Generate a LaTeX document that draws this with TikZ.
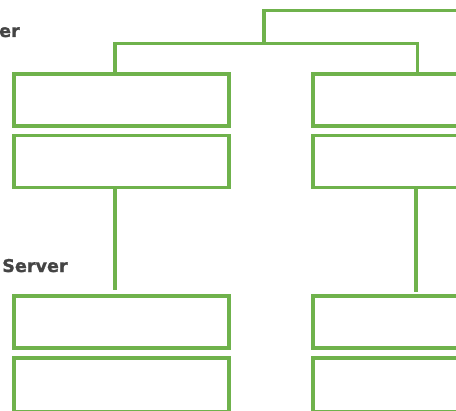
\documentclass[tikz,border=0pt]{standalone}
\usepackage{fontspec}
\setmainfont{DejaVu Sans}
\newfontfamily\heavylabel[FakeBold=1.2]{DejaVu Sans Bold}
\definecolor{linkgreen}{RGB}{111,178,76}
\definecolor{labelgray}{RGB}{68,68,68}
\begin{document}
\begin{tikzpicture}[x=0.75pt,y=-0.75pt,
  unitbox/.style={draw=linkgreen,line width=2.3pt,rectangle,inner sep=0pt,
    minimum width=161.25pt,minimum height=39pt},
  link/.style={draw=linkgreen,line width=2.3pt},
  tierlabel/.style={text=labelgray,font=\fontsize{13.2pt}{16pt}\selectfont\heavylabel,inner sep=0pt}]
\useasboundingbox (0,0) rectangle (456,410);
\clip (0,0) rectangle (456,410);

% upper pair of boxes on each side
\node[unitbox] (L1) at (121.5,100) {};
\node[unitbox] (L2) at (121.5,161.5) {};
\node[unitbox] (R1) at (420.5,100) {};
\node[unitbox] (R2) at (420.5,161.5) {};

% lower pair of boxes on each side
\node[unitbox] (L3) at (121.5,322) {};
\node[unitbox,minimum height=40.5pt] (L4) at (121.5,385) {};
\node[unitbox] (R3) at (420.5,322) {};
\node[unitbox,minimum height=40.5pt] (R4) at (420.5,385) {};

% labels
\node[tierlabel,anchor=base east] (tierA) at (20,37) {er};
\node[tierlabel,anchor=base west] (tierB) at (2,272) {Server};

% bus joining the two upper stacks
\coordinate (busL) at (115,43.3);
\coordinate (busR) at (417.5,43.3);
\coordinate (hub) at (264,43.3);
\coordinate (up) at (264,10.7);
\coordinate (off) at (480,10.7);
\draw[link] (L1.north -| busL) -- (busL) -- (busR) -- (R1.north -| busR);
\draw[link] (hub) -- (up) -- (off);

% drops from the upper stacks to the lower ones
\draw[link,shorten >=3.5pt] (L2.south -| busL) -- (L3.north -| busL);
\draw[link,shorten >=1.5pt] (L2.south -| 416,0) -- (R3.north -| 416,0);
\end{tikzpicture}
\end{document}
